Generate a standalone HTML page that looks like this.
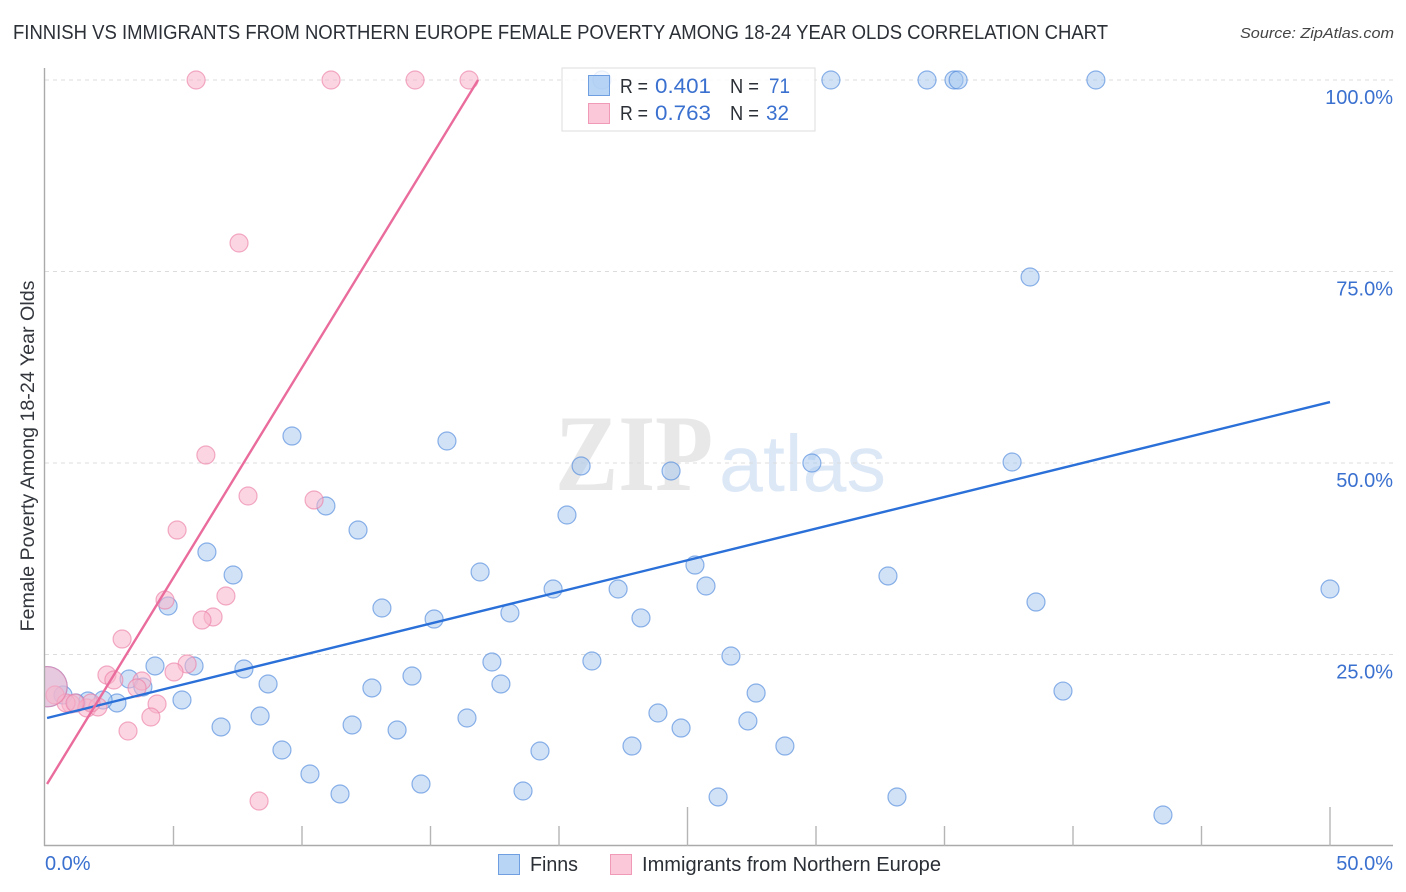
<!DOCTYPE html>
<html lang="en">
<head>
<meta charset="utf-8">
<title>Finnish vs Immigrants from Northern Europe Female Poverty Correlation Chart</title>
<style>
html,body{margin:0;padding:0;background:#fff}
svg{display:block}
text{font-family:"Liberation Sans",sans-serif}
</style>
</head>
<body>
<svg id="chart" xmlns="http://www.w3.org/2000/svg" width="1406" height="892" viewBox="0 0 1406 892">
  <text x="13" y="39" font-size="20" fill="#2b2f36" textLength="1095" lengthAdjust="spacingAndGlyphs">FINNISH VS IMMIGRANTS FROM NORTHERN EUROPE FEMALE POVERTY AMONG 18-24 YEAR OLDS CORRELATION CHART</text>
  <text x="1394" y="38" font-size="15" font-style="italic" fill="#444" text-anchor="end" textLength="154" lengthAdjust="spacingAndGlyphs">Source: ZipAtlas.com</text>
  <g>
    <text x="555" y="490" font-size="109" font-weight="bold" fill="#e8e8e8" textLength="158" lengthAdjust="spacingAndGlyphs" style="font-family:'Liberation Serif',serif">ZIP</text>
    <text x="719" y="491" font-size="80" fill="#dde8f7" textLength="167" lengthAdjust="spacingAndGlyphs">atlas</text>
  </g>
  <g id="grid"></g>
  <g id="points"></g>
  <rect x="0" y="60" width="44.5" height="800" fill="#fff"/>
  <g id="trends"></g>
  <g id="axes"></g>
  <text transform="translate(34,456) rotate(-90)" font-size="19" fill="#33373d" text-anchor="middle" textLength="351" lengthAdjust="spacingAndGlyphs">Female Poverty Among 18-24 Year Olds</text>

  <g>
    <rect x="562" y="68" width="253" height="63" fill="#fff" fill-opacity="0.8" stroke="#ddd" stroke-width="1"/>
    <rect x="588.5" y="75.5" width="21" height="20" fill="#93bef0" fill-opacity="0.65" stroke="#6f9fe0"/>
    <rect x="588.5" y="103.5" width="21" height="20" fill="#f9b6cc" fill-opacity="0.75" stroke="#f09ab8"/>
    <text x="620" y="93" font-size="20" fill="#2b2f36" textLength="28" lengthAdjust="spacingAndGlyphs">R =</text>
    <text x="655" y="93" font-size="21" fill="#3a70cf" textLength="56" lengthAdjust="spacingAndGlyphs">0.401</text>
    <text x="730" y="93" font-size="20" fill="#2b2f36" textLength="29" lengthAdjust="spacingAndGlyphs">N =</text>
    <text x="769" y="93" font-size="21" fill="#3a70cf" textLength="21" lengthAdjust="spacingAndGlyphs">71</text>
    <text x="620" y="120" font-size="20" fill="#2b2f36" textLength="28" lengthAdjust="spacingAndGlyphs">R =</text>
    <text x="655" y="120" font-size="21" fill="#3a70cf" textLength="56" lengthAdjust="spacingAndGlyphs">0.763</text>
    <text x="730" y="120" font-size="20" fill="#2b2f36" textLength="29" lengthAdjust="spacingAndGlyphs">N =</text>
    <text x="766" y="120" font-size="21" fill="#3a70cf" textLength="23" lengthAdjust="spacingAndGlyphs">32</text>
  </g>

  <g>
    <rect x="498.5" y="854.5" width="21" height="20" fill="#93bef0" fill-opacity="0.65" stroke="#6f9fe0"/>
    <text x="530" y="871" font-size="20" fill="#2b2f36" textLength="48" lengthAdjust="spacingAndGlyphs">Finns</text>
    <rect x="610.5" y="854.5" width="21" height="20" fill="#f9b6cc" fill-opacity="0.75" stroke="#f09ab8"/>
    <text x="642" y="871" font-size="20" fill="#2b2f36" textLength="299" lengthAdjust="spacingAndGlyphs">Immigrants from Northern Europe</text>
  </g>
</svg>
<script>
var finnsX = [21.67,30.58,34.32,35.37,35.53,40.89,38.33,9.61,15.64,20.86,24.36,29.84,37.63,10.93,12.18,20.31,6.30,7.32,16.93,25.29,25.72,32.80,38.56,50.0,19.77,22.30,13.11,4.79,15.14,18.09,23.19,4.28,5.80,7.74,17.39,21.28,26.69,8.68,3.27,3.81,12.72,14.28,17.74,27.67,39.61,5.33,2.80,2.26,1.67,0.70,1.21,8.37,6.85,11.95,13.70,16.42,23.85,24.75,27.35,9.22,19.26,22.84,28.79,10.31,11.48,14.63,18.60,26.19,33.15,43.50,0.08];
var finnsY = [100,100,100,100,100,100,74.28,53.52,52.87,49.61,48.96,50.0,50.13,44.39,41.25,43.21,38.38,35.38,35.77,36.68,33.94,35.25,31.85,33.55,33.55,33.55,31.07,31.33,29.63,30.42,29.77,23.5,23.5,23.11,24.02,24.15,24.8,21.15,21.8,20.76,20.63,22.19,21.15,19.97,20.23,19.06,18.67,19.06,18.93,19.71,18.67,16.97,15.54,15.80,15.14,16.71,17.36,15.40,16.32,12.53,12.40,13.05,13.05,9.40,6.79,8.09,7.18,6.40,6.40,4.05,20.8];
var finnsWeight = [1,1,1,1,1,1,1,1,1,1,1,1,1,1,1,1,1,1,1,1,1,1,1,1,1,1,1,1,1,1,1,1,1,1,1,1,1,1,1,1,1,1,1,1,1,1,1,1,1,1,1,1,1,1,1,1,1,1,1,1,1,1,1,1,1,1,1,1,1,1,5];
var immigrantsX = [5.88,11.13,14.40,16.50,7.55,6.26,7.90,10.47,5.14,4.67,7.04,6.54,6.11,3.00,2.41,5.53,5.02,2.68,3.77,3.58,4.36,4.12,3.23,8.33,0.39,1.01,0.82,1.63,2.06,1.79,1.17,0.08];
var immigrantsY = [100,100,100,100,78.72,51.04,45.69,45.17,41.25,32.11,32.64,29.90,29.50,27.02,22.32,23.76,22.72,21.67,21.54,20.63,18.54,16.84,15.01,5.87,19.71,18.54,18.67,18.02,18.15,18.67,18.67,20.8];
var immigrantsWeight = [1,1,1,1,1,1,1,1,1,1,1,1,1,1,1,1,1,1,1,1,1,1,1,1,1,1,1,1,1,1,1,5];
var finnsTrendX = [0.08,50];
var finnsTrendY = [16.71,57.96];
var immigrantsTrendX = [0.08,16.85];
var immigrantsTrendY = [8.09,100];
var yTicks = [25,50,75,100];
var yTickLabels = ['25.0%','50.0%','75.0%','100.0%'];
var xTicks = [5,10,15,20,25,30,35,40,45,50];
var xMajorTicks = [25,50];
var xEndLabels = ['0.0%','50.0%'];

var NS = 'http://www.w3.org/2000/svg';
function sx(v){ return 45 + v * 25.7; }
function sy(v){ return 846 - v * 7.66; }
function make(tag, attrs, parent){
  var el = document.createElementNS(NS, tag);
  for (var k in attrs) el.setAttribute(k, attrs[k]);
  parent.appendChild(el);
  return el;
}
var grid = document.getElementById('grid');
var axes = document.getElementById('axes');
var points = document.getElementById('points');
var trends = document.getElementById('trends');

yTicks.forEach(function(t, i){
  var line = make('line', {x1:45, x2:1393, y1:sy(t), y2:sy(t), stroke:'#dcdcdc', 'stroke-width':1, 'stroke-dasharray':'4 4'}, grid);
  
  
  var label = make('text', {x:1393, y:sy(t) + 24, 'font-size':20, fill:'#3a70cf', 'text-anchor':'end'}, axes);
  label.textContent = yTickLabels[i];
  
  
});

function drawSeries(xs, ys, ws, fill, fillOpacity, stroke, name){
  xs.forEach(function(x, i){
    var c = make('circle', {cx:sx(x), cy:sy(ys[i]), r:9 * Math.sqrt(ws[i]), fill:fill, 'fill-opacity':fillOpacity, stroke:stroke, 'stroke-opacity':0.62, 'stroke-width':1.2}, points);
    
    
  });
}
drawSeries(finnsX, finnsY, finnsWeight, '#a3c5f0', 0.5, '#4a86dc', 'finns-point');
drawSeries(immigrantsX, immigrantsY, immigrantsWeight, '#f8b4ca', 0.55, '#ec7ca4', 'immigrants-point');

var trendFinns = make('line', {x1:sx(finnsTrendX[0]), y1:sy(finnsTrendY[0]), x2:sx(finnsTrendX[1]), y2:sy(finnsTrendY[1]), stroke:'#2a70d8', 'stroke-width':2.4}, trends);


var trendImm = make('line', {x1:sx(immigrantsTrendX[0]), y1:sy(immigrantsTrendY[0]), x2:sx(immigrantsTrendX[1]), y2:sy(immigrantsTrendY[1]), stroke:'#ea6c9c', 'stroke-width':2.4}, trends);



var yAxis = make('line', {x1:44.5, x2:44.5, y1:68, y2:846, stroke:'#aaa', 'stroke-width':1.4}, axes);


var xAxis = make('line', {x1:44, x2:1393, y1:845.5, y2:845.5, stroke:'#aaa', 'stroke-width':1.4}, axes);


xTicks.forEach(function(t){
  var top = xMajorTicks.indexOf(t) >= 0 ? 807 : 826;
  var tick = make('line', {x1:sx(t), x2:sx(t), y1:top, y2:846, stroke:'#b5b5b5', 'stroke-width':1.4}, axes);
  
  
});
var x0 = make('text', {x:45, y:870, 'font-size':20, fill:'#3a70cf'}, axes);
x0.textContent = xEndLabels[0];


var x1 = make('text', {x:1393, y:870, 'font-size':20, fill:'#3a70cf', 'text-anchor':'end'}, axes);
x1.textContent = xEndLabels[1];


</script>
</body>
</html>
